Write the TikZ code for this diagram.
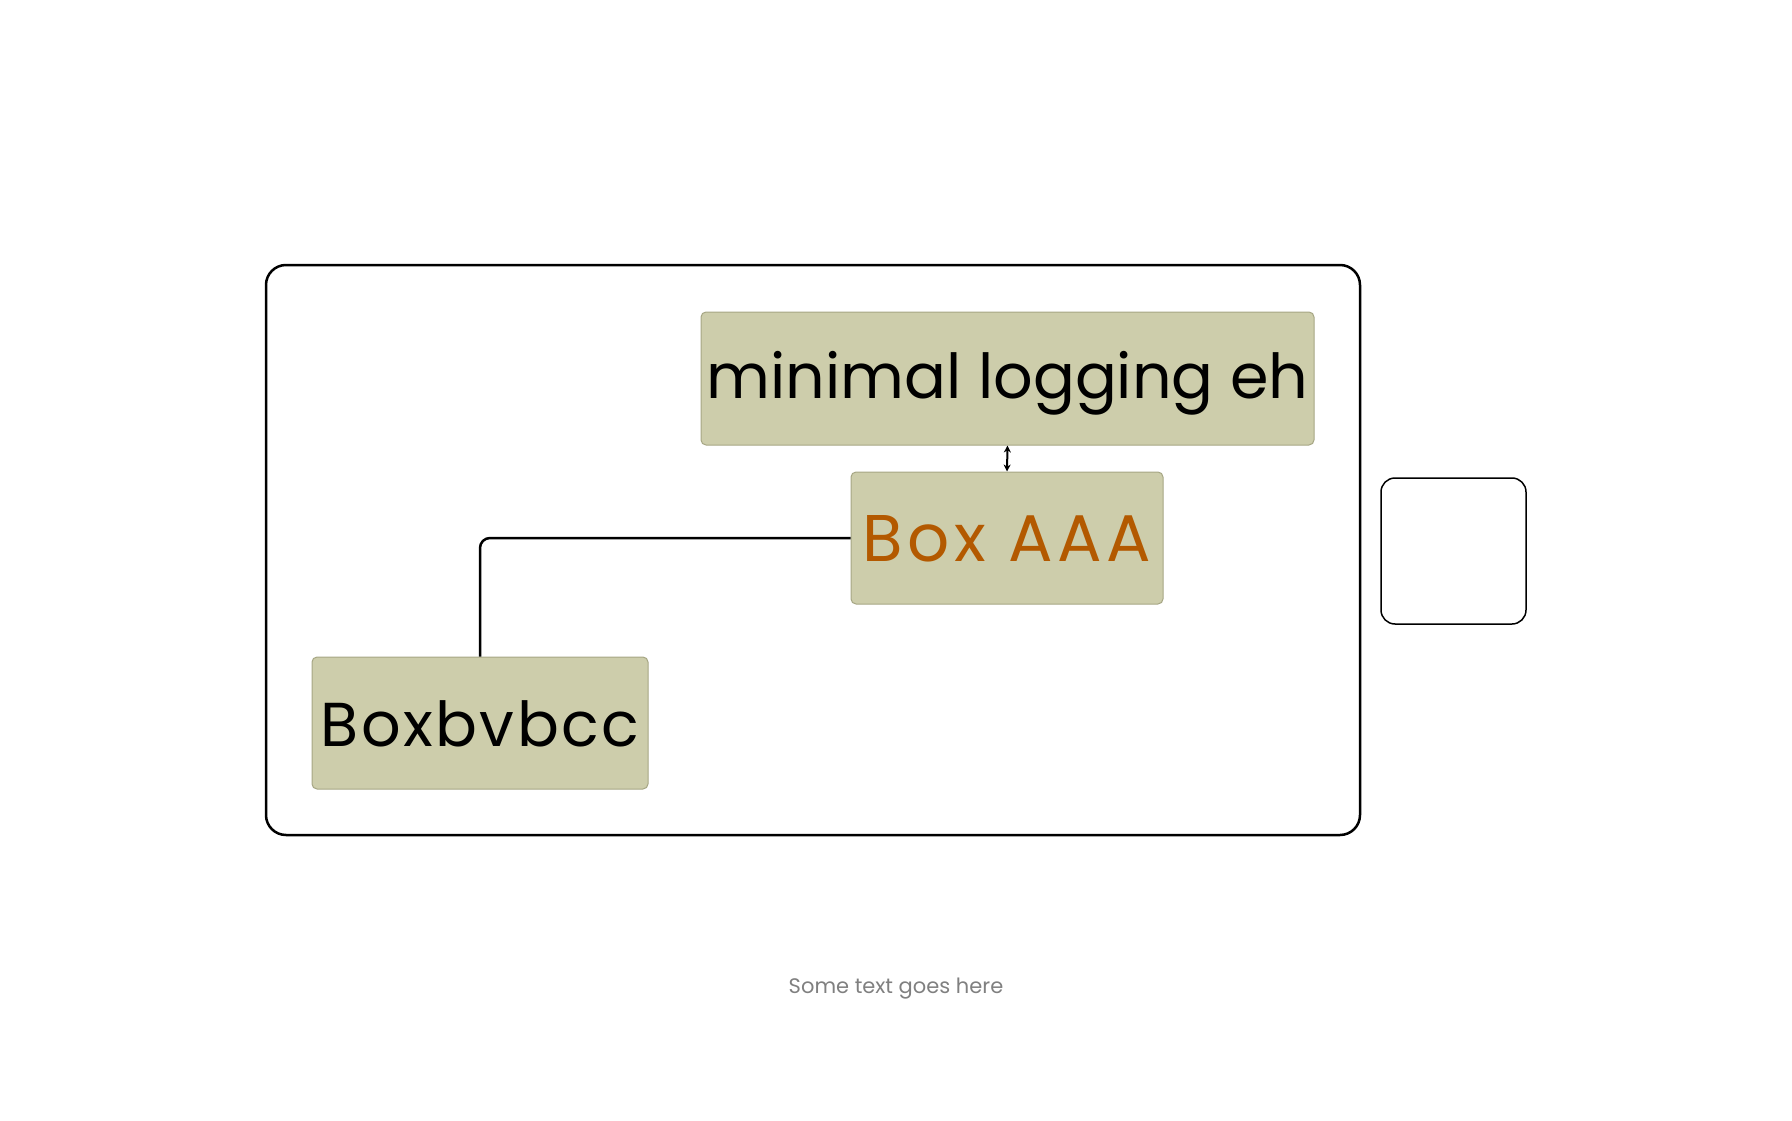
\documentclass[tikz,border=0pt]{standalone}
\usepackage{fontspec}
\setmainfont{Poppins}
\usetikzlibrary{arrows.meta}
\definecolor{boxfill}{HTML}{CDCDAB}
\definecolor{boxline}{HTML}{A6A684}
\definecolor{orangetxt}{HTML}{B35900}
\definecolor{captxt}{HTML}{808080}
\newcommand{\lowertext}[2]{\raisebox{0pt}[\dimexpr\height+#1\relax][\depth]{#2}}
\tikzset{
  tanbox/.style={draw=boxline, fill=boxfill, line width=1pt, rounded corners=5pt,
    inner sep=0pt, font=\fontsize{62}{70}\selectfont},
  conn/.style={line width=2.5pt, draw=black},
}
\begin{document}
\begin{tikzpicture}[x=1pt,y=-1pt]
\useasboundingbox (0,0) rectangle (1792,1121);
\node[draw, line width=2.5pt, rounded corners=20pt, minimum width=1094pt, minimum height=570pt, inner sep=0pt] (outer) at (813,550) {};
\node[tanbox, minimum width=613pt, minimum height=133pt] (ml) at (1007.5,378.5) {\lowertext{9pt}{minimal logging eh}};
\node[tanbox, minimum width=312pt, minimum height=132pt, text=orangetxt, font=\fontsize{66}{74}\selectfont] (aaa) at (1007,538) {\lowertext{2pt}{\addfontfeature{LetterSpace=7}Box AAA}};
\node[tanbox, minimum width=336pt, minimum height=132pt] (bvb) at (480,723) {\lowertext{2pt}{\addfontfeature{LetterSpace=4}Boxbvbcc}};
\node[draw, line width=1.5pt, rounded corners=14pt, minimum width=145pt, minimum height=146pt, inner sep=0pt] (small) at (1453.5,551) {};
\node[text=captxt, font=\fontsize{21}{25}\selectfont] (cap) at (896,989) {Some text goes here};
\draw[conn, rounded corners=10pt] (aaa.west) -| (bvb.north);
\draw[line width=2pt, {Stealth[length=7pt,width=7pt]}-{Stealth[length=7pt,width=7pt]}] (ml.south) -- (aaa.north);
\end{tikzpicture}
\end{document}
